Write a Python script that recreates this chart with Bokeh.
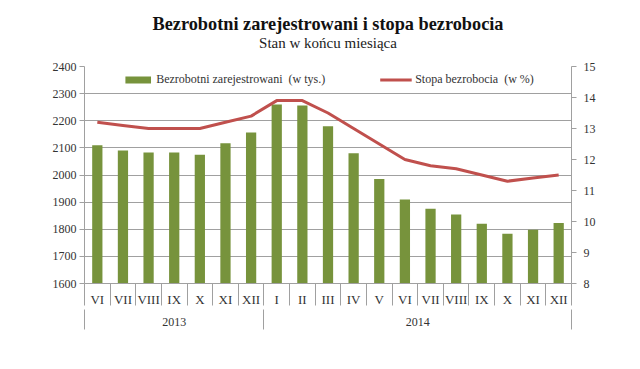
from bokeh.plotting import figure
from bokeh.models import Range1d, LinearAxis, FixedTicker, Title, Legend, LegendItem
from bokeh.embed import file_html
from bokeh.resources import INLINE

# ---- data ----
months = ["VI", "VII", "VIII", "IX", "X", "XI", "XII",
          "I", "II", "III", "IV", "V", "VI", "VII", "VIII", "IX", "X", "XI", "XII"]
years = ["2013", "2014"]
year_counts = [7, 12]
unemployed = [2110, 2090, 2083, 2083, 2075, 2117, 2157,
              2260, 2256, 2180, 2080, 1985, 1910, 1876, 1854, 1820, 1783, 1798, 1823]
rate = [13.2, 13.1, 13.0, 13.0, 13.0, 13.2, 13.4,
        13.9, 13.9, 13.5, 13.0, 12.5, 12.0, 11.8, 11.7, 11.5, 11.3, 11.4, 11.5]
left_ticks = [1600, 1700, 1800, 1900, 2000, 2100, 2200, 2300, 2400]
right_ticks = [8, 9, 10, 11, 12, 13, 14, 15]

title_text = "Bezrobotni zarejestrowani i stopa bezrobocia"
subtitle_text = "Stan w końcu miesiąca"
label_bars = "Bezrobotni zarejestrowani  (w tys.)"
label_line = "Stopa bezrobocia  (w %)"

# ---- derived positions ----
n = len(months)
idx = list(range(n))
month_bounds = [i - 0.5 for i in range(n + 1)]
year_bounds = [-0.5]
for c in year_counts:
    year_bounds.append(year_bounds[-1] + c)
year_centers = [(year_bounds[i] + year_bounds[i + 1]) / 2 for i in range(len(years))]

FONT = "Liberation Serif"
GREEN = "#77933C"
RED = "#C0504D"
GRID = "#A0A0A0"
TXT = "#333333"

p = figure(frame_width=487, frame_height=217, output_backend="svg", toolbar_location=None,
           x_range=Range1d(-0.5, n - 0.5), y_range=Range1d(left_ticks[0], left_ticks[-1]),
           min_border_left=84, min_border_right=69, min_border_top=66, min_border_bottom=86)
p.extra_y_ranges = {"rate": Range1d(right_ticks[0], right_ticks[-1])}
p.outline_line_color = None
p.background_fill_color = "white"
p.border_fill_color = "white"

bars = p.vbar(x=idx, top=unemployed, bottom=left_ticks[0], width=0.4,
              fill_color=GREEN, line_color=None)
line = p.line(x=idx, y=rate, y_range_name="rate", line_color=RED, line_width=3)

# grid
p.xgrid.visible = False
p.ygrid.ticker = FixedTicker(ticks=left_ticks)
p.ygrid.grid_line_color = GRID
p.ygrid.grid_line_width = 1

# left axis
ya = p.yaxis[0]
ya.ticker = FixedTicker(ticks=left_ticks)
ya.axis_line_color = GRID
ya.major_tick_line_color = GRID
ya.major_tick_out = 5
ya.major_tick_in = 0
ya.minor_tick_line_color = None
ya.major_label_standoff = 3
ya.major_label_text_font = FONT
ya.major_label_text_font_size = "12px"
ya.major_label_text_color = TXT

# right axis
ra = LinearAxis(y_range_name="rate", ticker=FixedTicker(ticks=right_ticks))
ra.axis_line_color = GRID
ra.major_tick_line_color = GRID
ra.major_tick_out = 5
ra.major_tick_in = 0
ra.minor_tick_line_color = None
ra.major_label_standoff = 7
ra.major_label_text_font = FONT
ra.major_label_text_font_size = "12px"
ra.major_label_text_color = TXT
p.add_layout(ra, "right")

# month axis
xa = p.xaxis[0]
xa.ticker = FixedTicker(ticks=idx, minor_ticks=month_bounds)
xa.major_label_overrides = {i: m for i, m in zip(idx, months)}
xa.axis_line_color = GRID
xa.major_tick_out = 0
xa.major_tick_in = 0
xa.major_tick_line_color = None
xa.minor_tick_out = 22
xa.minor_tick_in = 0
xa.minor_tick_line_color = GRID
xa.major_label_standoff = -14
xa.major_label_text_font = FONT
xa.major_label_text_font_size = "13px"
xa.major_label_text_color = TXT

# year axis
ya2 = LinearAxis(ticker=FixedTicker(ticks=year_centers, minor_ticks=year_bounds),
                 major_label_overrides={c: y for c, y in zip(year_centers, years)})
ya2.axis_line_color = None
ya2.major_tick_out = 0
ya2.major_tick_in = 0
ya2.major_tick_line_color = None
ya2.minor_tick_out = 20
ya2.minor_tick_in = 0
ya2.minor_tick_line_color = GRID
ya2.major_label_standoff = -12
ya2.major_label_text_font = FONT
ya2.major_label_text_font_size = "12px"
ya2.major_label_text_color = TXT
p.add_layout(ya2, "below")

# legend (inside the empty top band of the plot area so it is always visible)
legend = Legend(items=[LegendItem(label=label_bars, renderers=[bars]),
                       LegendItem(label=label_line, renderers=[line])],
                orientation="horizontal", location="top_center",
                border_line_color=None, background_fill_alpha=0,
                label_text_font=FONT, label_text_font_size="12px", label_text_color=TXT,
                glyph_width=32, glyph_height=9, label_height=14, spacing=55, label_standoff=3,
                padding=0, margin=6)
p.add_layout(legend, "center")

# titles
p.title.text = title_text
p.title.align = "center"
p.title.text_font = FONT
p.title.text_font_size = "18.3px"
p.title.text_font_style = "bold"
p.title.text_color = "#111111"
p.title.standoff = -33
p.add_layout(Title(text=subtitle_text, align="center", text_font=FONT, text_font_size="15px",
                   text_font_style="normal", text_color="#222222", standoff=31), "above")

open("out.html", "w").write(file_html(p, INLINE))
